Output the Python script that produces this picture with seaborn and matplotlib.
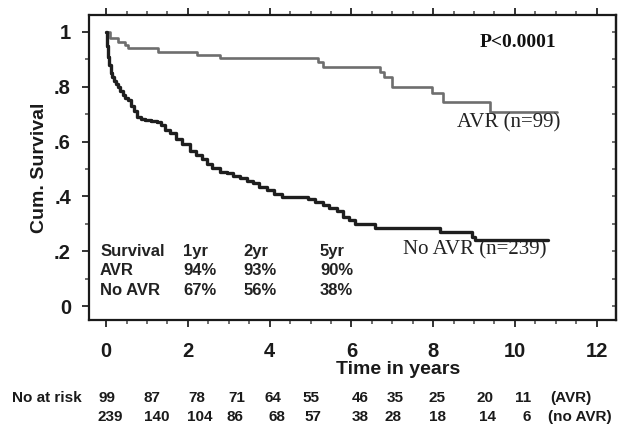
import matplotlib
matplotlib.use("Agg")
import matplotlib.pyplot as plt
import seaborn as sns
import pandas as pd
import numpy as np
from matplotlib.ticker import MultipleLocator, FixedLocator

sns.set_style("ticks")
plt.rcParams['font.family'] = ['Liberation Sans', 'DejaVu Sans']

# --- data ---
avr_time = [0, 0.1, 0.29, 0.46, 0.54, 1.27, 2.22, 2.79, 5.18, 5.3, 6.7, 6.8, 6.99, 7.97, 8.24, 9.39, 11.03]
avr_surv = [1.0, 0.978, 0.963, 0.952, 0.94, 0.927, 0.916, 0.906, 0.89, 0.872, 0.854, 0.836, 0.80, 0.777, 0.745, 0.708, 0.708]

noavr_time = [0, 0.02, 0.05, 0.08, 0.12, 0.15, 0.2, 0.25, 0.29, 0.35, 0.4, 0.45, 0.54, 0.6, 0.68,
              0.76, 0.85, 0.95, 1.1, 1.25, 1.35, 1.44, 1.56, 1.7, 1.85, 2.05, 2.2, 2.35, 2.47, 2.6,
              2.79, 2.95, 3.1, 3.28, 3.45, 3.59, 3.75, 3.94, 4.1, 4.3, 4.94, 5.1, 5.3, 5.45, 5.65,
              5.8, 5.95, 6.09, 6.58, 8.17, 8.95, 9.02, 10.8]
noavr_surv = [1.0, 0.95, 0.91, 0.88, 0.85, 0.836, 0.82, 0.81, 0.80, 0.785, 0.77, 0.76, 0.75, 0.73, 0.71,
              0.69, 0.683, 0.679, 0.675, 0.67, 0.66, 0.642, 0.63, 0.61, 0.59, 0.565, 0.55, 0.535, 0.52, 0.505,
              0.49, 0.485, 0.475, 0.467, 0.458, 0.449, 0.435, 0.423, 0.41, 0.398, 0.39, 0.38, 0.37, 0.357, 0.345,
              0.326, 0.315, 0.30, 0.285, 0.27, 0.252, 0.241, 0.241]

table_cols = ["Survival", "1yr", "2yr", "5yr"]
table_avr = ["AVR", "94%", "93%", "90%"]
table_noavr = ["No AVR", "67%", "56%", "38%"]

risk_avr = ["99", "87", "78", "71", "64", "55", "46", "35", "25", "20", "11"]
risk_noavr = ["239", "140", "104", "86", "68", "57", "38", "28", "18", "14", "6"]

y_ticks = [0, 0.2, 0.4, 0.6, 0.8, 1.0]
y_ticklabels = ["0", ".2", ".4", ".6", ".8", "1"]
x_ticks = [0, 2, 4, 6, 8, 10, 12]

df_avr = pd.DataFrame({"time": avr_time, "surv": avr_surv})
df_no = pd.DataFrame({"time": noavr_time, "surv": noavr_surv})

fig = plt.figure(figsize=(6.19, 4.26), dpi=100)
ax = fig.add_axes([0.1438, 0.2488, 0.851, 0.716])

sns.lineplot(data=df_avr, x="time", y="surv", ax=ax, color="#6e6e6e", linewidth=1.9,
             drawstyle="steps-post", estimator=None, sort=False)
sns.lineplot(data=df_no, x="time", y="surv", ax=ax, color="#1e1e1e", linewidth=2.4,
             drawstyle="steps-post", estimator=None, sort=False)

ax.set_xlim(-0.42, 12.47)
ax.set_ylim(-0.051, 1.062)
ax.set_xlabel("")
ax.set_ylabel("")

for s in ax.spines.values():
    s.set_linewidth(1.6)
    s.set_color("#1a1a1a")

ax.xaxis.set_major_locator(FixedLocator(x_ticks))
ax.xaxis.set_minor_locator(MultipleLocator(0.5))
ax.yaxis.set_major_locator(FixedLocator(y_ticks))
ax.yaxis.set_minor_locator(MultipleLocator(0.1))
ax.set_yticklabels(y_ticklabels)
ax.tick_params(axis="both", which="major", direction="out", length=5, width=1.4, color="#333333",
               labelsize=14.5, top=True, right=False)
ax.tick_params(axis="both", which="minor", direction="out", length=3, width=1.2, color="#555555",
               top=True, right=False)
ax.tick_params(axis="y", which="major", pad=8)
ax.tick_params(axis="x", which="major", pad=11)
for lab in ax.get_xticklabels() + ax.get_yticklabels():
    lab.set_fontweight("bold")
    lab.set_color("#1a1a1a")

sec = ax.secondary_yaxis("right")
sec.yaxis.set_major_locator(MultipleLocator(0.1))
sec.tick_params(direction="in", length=3, width=1.2, color="#555555", labelright=False)
sec.spines["right"].set_linewidth(1.6)

# annotations
ax.text(9.14, 0.96, "P<0.0001", fontsize=14, fontweight="bold", family="Liberation Serif",
        va="center", ha="left", color="#111111")
ax.text(8.58, 0.667, "AVR (n=99)", fontsize=15, family="Liberation Serif",
        va="center", ha="left", color="#222222")
ax.text(7.26, 0.204, "No AVR (n=239)", fontsize=15, family="Liberation Serif",
        va="center", ha="left", color="#222222")

# survival table
col_x = [-0.15, 1.88, 3.35, 5.23]
row_y = [0.20, 0.128, 0.058]
for row, yy in zip([table_cols, table_avr, table_noavr], row_y):
    for txt, xx in zip(row, col_x):
        ax.text(xx, yy, txt, fontsize=12, fontweight="bold", va="center", ha="left", color="#222222")

fig.text(40 / 619, 1 - 168 / 426, "Cum. Survival", rotation=90, fontsize=14, fontweight="bold",
         va="center", ha="center", color="#1a1a1a")
fig.text(398 / 619, 1 - 369 / 426, "Time in years", fontsize=14, fontweight="bold",
         va="center", ha="center", color="#1a1a1a")

# number at risk
risk_x_px = [107, 152, 197, 237, 273, 311, 360, 395, 437, 485, 523]
fig.text(12 / 619, 1 - 398 / 426, "No at risk", fontsize=11, fontweight="bold", va="center", ha="left",
         color="#1a1a1a")
risk_x_px2 = [110, 157, 200, 235, 277, 313, 360, 393, 438, 487, 527]
for v, px in zip(risk_avr, risk_x_px):
    fig.text(px / 619, 1 - 398 / 426, v, fontsize=11, fontweight="bold", va="center", ha="center",
             color="#1a1a1a")
for v, px in zip(risk_noavr, risk_x_px2):
    fig.text(px / 619, 1 - 417 / 426, v, fontsize=11, fontweight="bold", va="center", ha="center",
             color="#1a1a1a")
fig.text(550 / 619, 1 - 398 / 426, "(AVR)", fontsize=11, fontweight="bold", va="center", ha="left",
         color="#1a1a1a")
fig.text(548 / 619, 1 - 417 / 426, "(no AVR)", fontsize=11, fontweight="bold", va="center", ha="left",
         color="#1a1a1a")

fig.savefig("out.png", dpi=100, facecolor="white")
